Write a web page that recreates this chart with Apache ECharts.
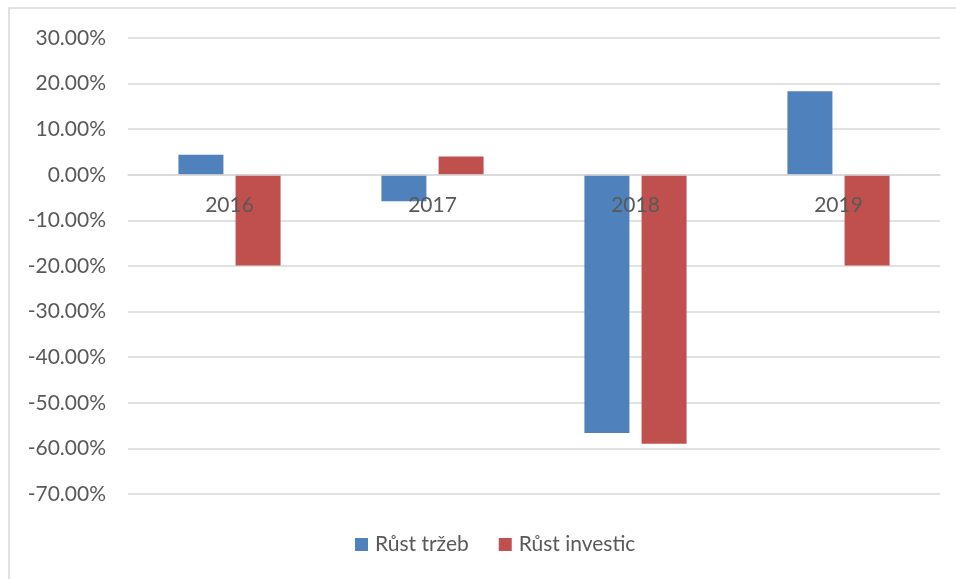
<!DOCTYPE html>
<html>
<head>
<meta charset="utf-8">
<script src="https://cdn.jsdelivr.net/npm/echarts@6/dist/echarts.min.js"></script>
<style>
html, body { margin: 0; padding: 0; background: #fff; }
#chart { width: 956px; height: 579px; }
</style>
</head>
<body>
<div id="chart"></div>
<script>
var years = ['2016', '2017', '2018', '2019'];
var rustTrzeb = [4.4, -5.8, -56.6, 18.3];
var rustInvestic = [-19.9, 4.0, -59.0, -19.9];
var seriesNames = ['Růst tržeb', 'Růst investic'];

var chart = echarts.init(document.getElementById('chart'));
var font = 'Lato';
var textColor = '#595959';
var lineColor = '#d9d9d9';

// axis sits at 0%, i.e. 30% of the plot height below the top (plot is 456px)
var zeroOffset = -Math.round(456 * 0.7);

chart.setOption({
    animation: false,
    color: ['#4f81bd', '#c0504d'],
    graphic: [{
        type: 'rect',
        shape: { x: 9, y: 8, width: 960, height: 580 },
        style: { fill: 'none', stroke: '#d9d9d9', lineWidth: 1.5 },
        silent: true
    }],
    grid: { left: 128, right: 16, top: 38, bottom: 85 },
    legend: {
        bottom: 19,
        left: 350,
        itemWidth: 13,
        itemHeight: 13,
        itemGap: 30,
        icon: 'rect',
        textStyle: { fontFamily: font, fontSize: 21, color: textColor, padding: [0, 0, 0, 2] }
    },
    xAxis: {
        type: 'category',
        data: years,
        position: 'bottom',
        offset: zeroOffset,
        z: 5,
        axisLine: { onZero: false, lineStyle: { color: lineColor, width: 1.5 } },
        axisTick: { show: false },
        axisLabel: { margin: 20, fontFamily: font, fontSize: 21, color: textColor }
    },
    yAxis: {
        type: 'value',
        min: -70,
        max: 30,
        interval: 10,
        axisLine: { show: false },
        axisTick: { show: false },
        splitLine: { lineStyle: { color: lineColor, width: 1.5 } },
        axisLabel: {
            margin: 22,
            fontFamily: font,
            fontSize: 21,
            color: textColor,
            formatter: function (v) { return v.toFixed(2) + '%'; }
        }
    },
    series: [{
        name: seriesNames[0],
        type: 'bar',
        data: rustTrzeb,
        barWidth: 45,
        barGap: '27%'
    }, {
        name: seriesNames[1],
        type: 'bar',
        data: rustInvestic,
        barWidth: 45,
        barGap: '27%'
    }]
});
</script>
</body>
</html>
